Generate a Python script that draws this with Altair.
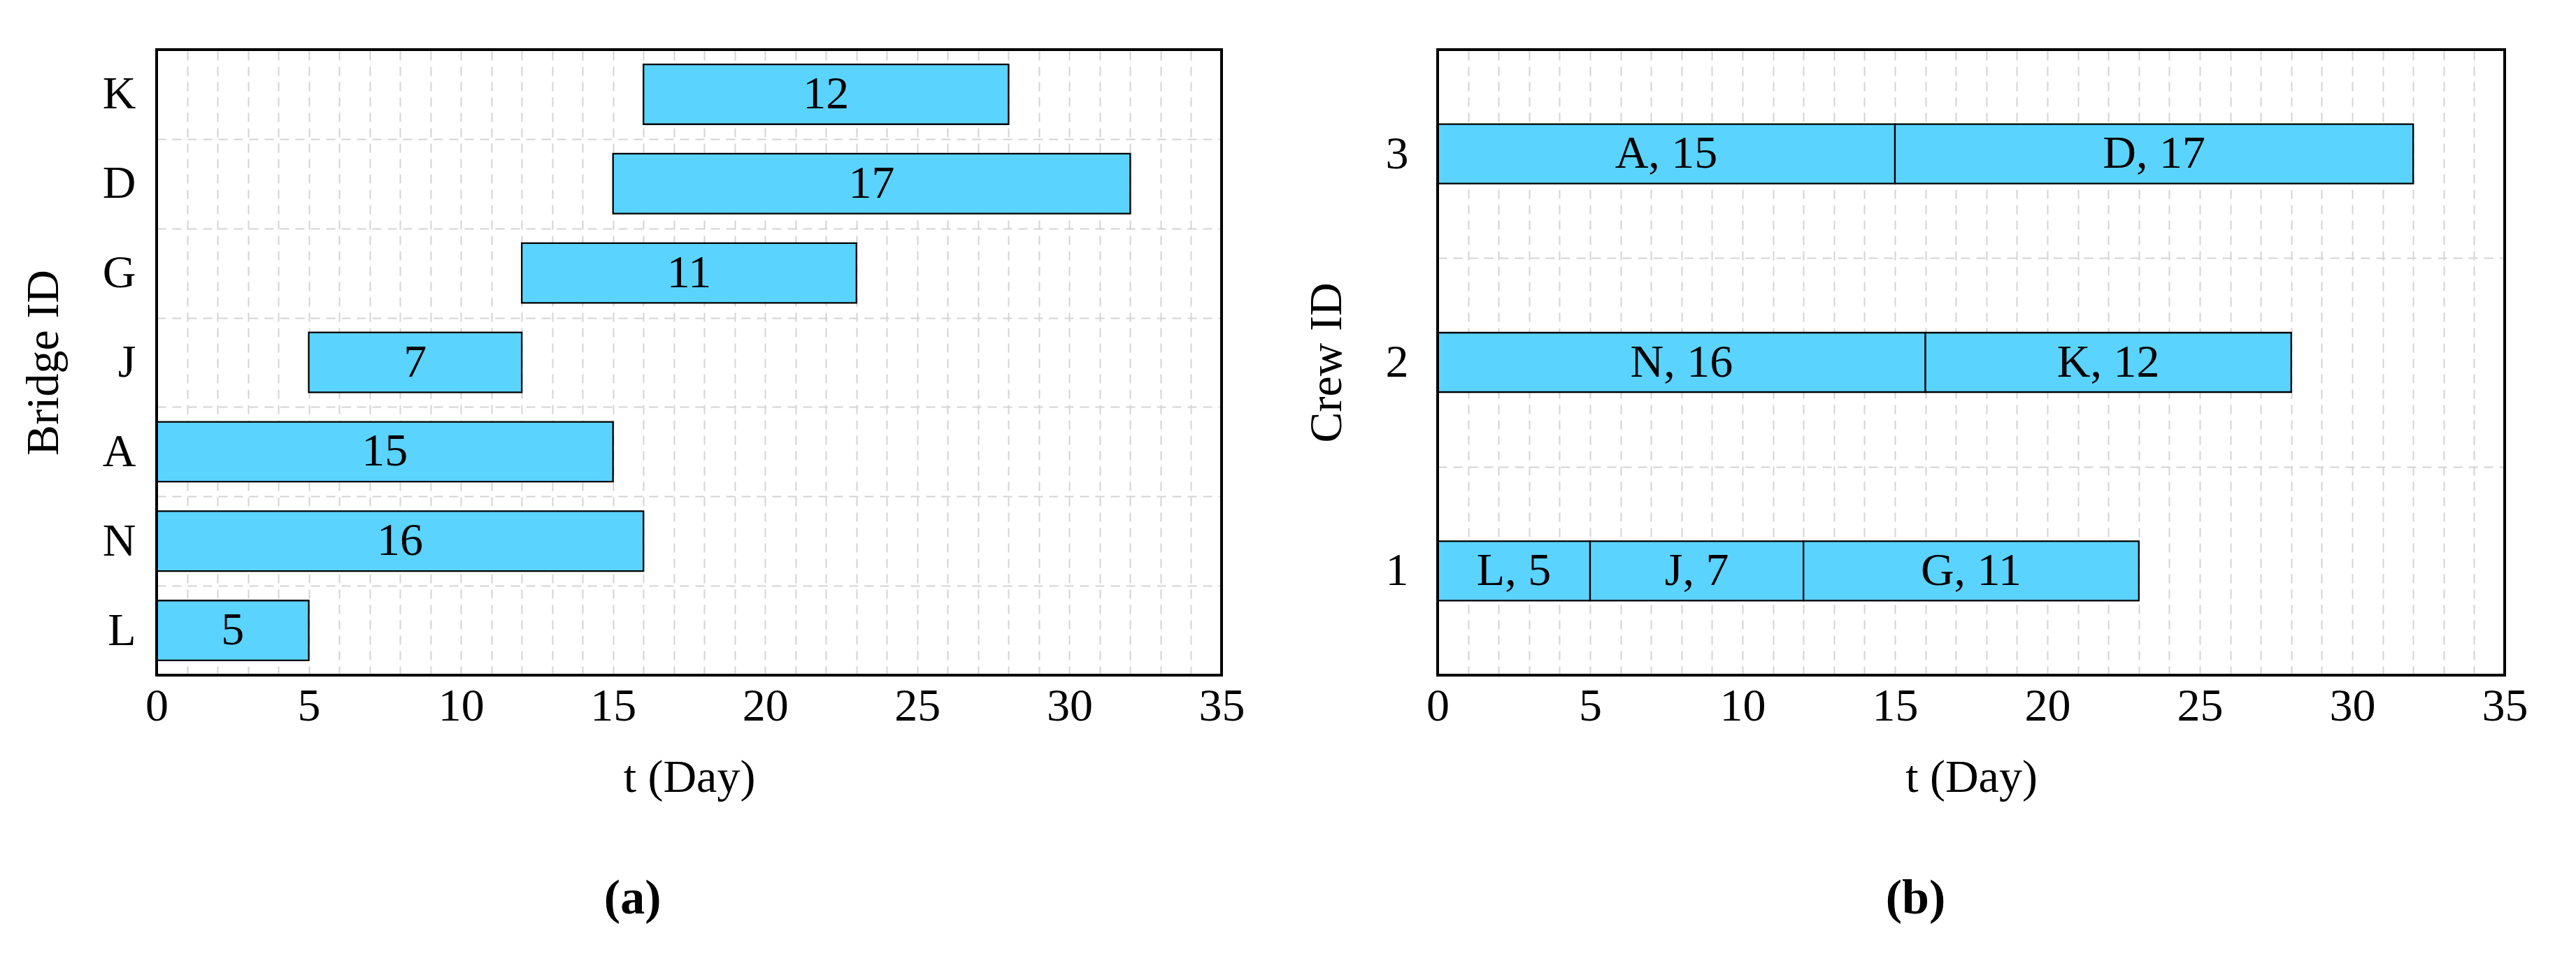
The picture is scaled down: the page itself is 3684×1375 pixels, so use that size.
import altair as alt
import pandas as pd

# ---- data ----
bridge_ids = ["K", "D", "G", "J", "A", "N", "L"]
bridge_start = [16, 15, 12, 5, 0, 0, 0]
bridge_duration = [12, 17, 11, 7, 15, 16, 5]

crew_ids = ["1", "1", "1", "2", "2", "3", "3"]
crew_tasks = ["L", "J", "G", "N", "K", "A", "D"]
crew_start = [0, 5, 12, 0, 16, 0, 15]
crew_duration = [5, 7, 11, 16, 12, 15, 17]

crew_order = ["3", "2", "1"]
x_ticks = list(range(0, 36))

FONT = "Palatino Linotype, Book Antiqua, Palatino, Liberation Serif, serif"
FS = 66
BAR_FILL = "#5BD3FF"

df_a = pd.DataFrame({"bridge": bridge_ids, "start": bridge_start, "dur": bridge_duration})
df_a["end"] = df_a["start"] + df_a["dur"]
df_a["label"] = df_a["dur"].astype(str)

df_b = pd.DataFrame({"crew": crew_ids, "task": crew_tasks, "start": crew_start, "dur": crew_duration})
df_b["end"] = df_b["start"] + df_b["dur"]
df_b["label"] = df_b["task"] + ", " + df_b["dur"].astype(str)

x_axis = alt.Axis(
    values=x_ticks,
    labelExpr="datum.value % 5 === 0 ? datum.label : ''",
    labelFlush=False,
    labelOverlap=False,
    ticks=False,
    domain=False,
    grid=True,
    labelPadding=12,
    titlePadding=37,
)
x_scale = alt.Scale(domain=[0, 35], nice=False)


def y_axis(pad):
    return alt.Axis(
        tickBand="extent",
        ticks=False,
        domain=False,
        grid=True,
        labelPadding=pad,
        titlePadding=50,
        labelAngle=0,
    )


band_scale_kw = dict(paddingInner=0, paddingOuter=0)

# frame drawn above the grid lines
frame = alt.Chart(pd.DataFrame({"f": [0]})).mark_rect(
    fill="transparent", stroke="black", strokeWidth=4,
).encode(
    x=alt.value(0), x2=alt.value("width"),
    y=alt.value(0), y2=alt.value("height"),
)

# ---- panel (a) ----
base_a = alt.Chart(df_a).encode(
    y=alt.Y("bridge:N", sort=bridge_ids, title="Bridge ID",
            scale=alt.Scale(**band_scale_kw), axis=y_axis(30)),
)
bars_a = base_a.mark_bar(
    fill=BAR_FILL, stroke="black", strokeWidth=2.3,
    height=alt.RelativeBandSize(0.67),
).encode(
    x=alt.X("start:Q", scale=x_scale, axis=x_axis, title="t (Day)"),
    x2="end:Q",
)
text_a = base_a.transform_calculate(mid="(datum.start + datum.end) / 2").mark_text(
    font=FONT, fontSize=FS, color="black", baseline="middle", align="center",
).encode(
    x=alt.X("mid:Q", scale=x_scale),
    text="label:N",
)
panel_a = alt.layer(bars_a, text_a, frame).properties(
    width=1523, height=895,
    title=alt.TitleParams("(a)", orient="bottom", anchor="middle", frame="bounds",
                          fontSize=70, fontWeight="bold", font=FONT, offset=107),
)

# ---- panel (b) ----
base_b = alt.Chart(df_b).encode(
    y=alt.Y("crew:N", sort=crew_order, title="Crew ID",
            scale=alt.Scale(**band_scale_kw), axis=y_axis(42)),
)
bars_b = base_b.mark_bar(
    fill=BAR_FILL, stroke="black", strokeWidth=2.3,
    height=alt.RelativeBandSize(0.285),
).encode(
    x=alt.X("start:Q", scale=x_scale, axis=x_axis, title="t (Day)"),
    x2="end:Q",
)
text_b = base_b.transform_calculate(mid="(datum.start + datum.end) / 2").mark_text(
    font=FONT, fontSize=FS, color="black", baseline="middle", align="center",
).encode(
    x=alt.X("mid:Q", scale=x_scale),
    text="label:N",
)
panel_b = alt.layer(bars_b, text_b, frame).properties(
    width=1526, height=895,
    title=alt.TitleParams("(b)", orient="bottom", anchor="middle", frame="bounds",
                          fontSize=70, fontWeight="bold", font=FONT, offset=107),
)

chart = alt.hconcat(panel_a, panel_b, spacing=82).properties(
    padding={"left": 20, "top": 29, "right": 5, "bottom": 5},
).configure_view(
    stroke="transparent",
).configure_axis(
    labelFont=FONT, titleFont=FONT,
    labelFontSize=FS, titleFontSize=FS,
    labelColor="black", titleColor="black",
    titleFontWeight="normal",
    gridColor="#d4d4d4", gridDash=[13, 9], gridWidth=2, gridOpacity=1,
).configure_title(
    color="black",
)

chart.save("out.html", embed_options={"renderer": "svg", "actions": False})
